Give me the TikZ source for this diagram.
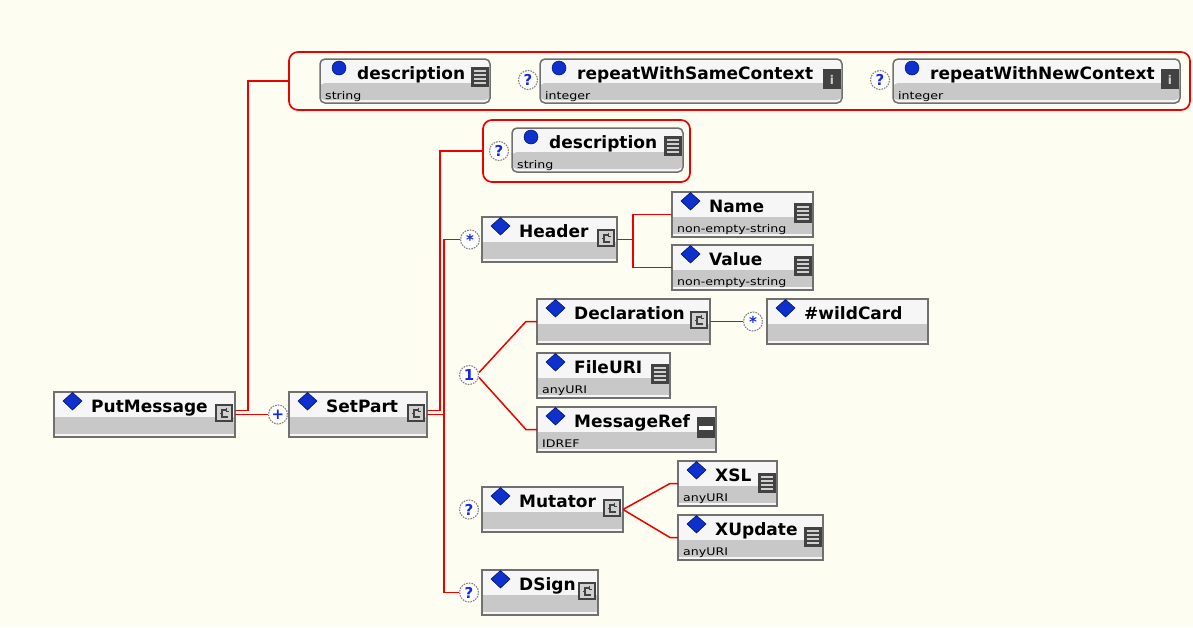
\documentclass[tikz,border=0pt]{standalone}
\usepackage{fontspec}
\setmainfont{DejaVu Sans}
\newfontfamily\subfont[FakeStretch=1.2]{DejaVu Sans}

\definecolor{bgcream}{RGB}{253,253,241}
\definecolor{conn}{RGB}{238,0,0}
\definecolor{frame}{RGB}{112,112,112}
\definecolor{topfill}{RGB}{246,246,246}
\definecolor{band}{RGB}{200,200,200}
\definecolor{mark}{RGB}{14,48,205}
\definecolor{markdark}{RGB}{0,22,110}
\definecolor{icondark}{RGB}{66,66,66}
\definecolor{iconlite}{RGB}{208,208,208}
\definecolor{occblue}{RGB}{20,40,230}

\tikzset{
  bandpic/.style={path picture={\fill[band]
      ([yshift=-#1]path picture bounding box.north west) rectangle
      ([yshift=3pt]path picture bounding box.south east);}},
  elbox/.style={rectangle, draw=frame, line width=1.5pt, fill=topfill,
    anchor=north west, inner sep=0pt, outer sep=0pt, minimum height=45pt,
    bandpic=25pt},
  atbox/.style={elbox, rounded corners=5pt, minimum height=44pt, bandpic=24pt},
  grp/.style={rectangle, draw=conn, line width=1.7pt, rounded corners=9pt,
    anchor=north west, inner sep=0pt, outer sep=0pt},
  conn/.style={draw=conn, line width=1.9pt},
  occ/.style={circle, draw=gray, dash pattern=on 1.6pt off 1.1pt,
    line width=1.1pt, fill=white, minimum size=19pt, inner sep=0pt,
    text=occblue, font=\bfseries\fontsize{15}{15}\selectfont},
  lbl/.style={anchor=base west, inner sep=0pt,
    font=\bfseries\fontsize{17}{19}\selectfont},
  sublbl/.style={anchor=base west, inner sep=0pt,
    font=\subfont\fontsize{10.5}{12}\selectfont},
}

% icons at the right end of a box: #1 = right edge, #2 = top
\newcommand{\icsimple}[2]{%
  \fill[icondark] (#1-19,#2) rectangle (#1-1,#2+20);
  \foreach \k in {4,8,12,16}
    \draw[iconlite, line width=1.3pt] (#1-16,#2+\k) -- (#1-4,#2+\k);}
\newcommand{\iccomplex}[2]{%
  \filldraw[fill=iconlite, draw=icondark, line width=1.2pt]
    (#1-19,#2) rectangle (#1-3,#2+16);
  \draw[icondark, line width=1.1pt]
    (#1-8,#2+5) -- (#1-13,#2+5) -- (#1-13,#2+12) -- (#1-7,#2+12)
    (#1-13,#2+8.5) -- (#1-15.5,#2+8.5)
    (#1-8.5,#2+2.5) -- (#1-8.5,#2+6.5) -- (#1-6.5,#2+6.5);}
\newcommand{\icref}[2]{%
  \fill[icondark] (#1-19,#2) rectangle (#1-1,#2+21);
  \fill[white] (#1-17,#2+9) rectangle (#1-3,#2+12.5);}
\newcommand{\icinfo}[3]{%
  \fill[icondark] (#1-19,#2) rectangle (#1-1,#2+20);
  \node[text=iconlite, inner sep=0pt, font=\bfseries\fontsize{12}{12}\selectfont]
    (#3-ico) at (#1-10,#2+10.5) {i};}

% element box: name, x, y, width, label, type, icon
\newcommand{\xelem}[7]{%
  \node[elbox, minimum width=#4pt] (#1) at (#2,#3) {};
  \begin{scope}[shift={(#1.north west)}]
    \filldraw[fill=mark, draw=markdark, line width=0.6pt]
      (18.5,0.5) -- (28,9) -- (18.5,18) -- (9,9) -- cycle;
    \node[lbl] (#1-lab) at (37,20) {#5};
    \node[sublbl] (#1-sub) at (5,40) {#6};
    #7
  \end{scope}}

% attribute box: name, x, y, width, label, type, icon
\newcommand{\xattr}[7]{%
  \node[atbox, minimum width=#4pt] (#1) at (#2,#3) {};
  \begin{scope}[shift={(#1.north west)}]
    \filldraw[fill=mark, draw=markdark, line width=0.5pt] (19,9) circle (7);
    \node[lbl] (#1-lab) at (37,20) {#5};
    \node[sublbl] (#1-sub) at (5,40) {#6};
    #7
  \end{scope}}

\begin{document}
\begin{tikzpicture}[x=1pt,y=-1pt]
\fill[bgcream] (0,0) rectangle (1193,627);
\useasboundingbox (0,0) rectangle (1193,627);

% attribute groups
\node[grp, minimum width=901pt, minimum height=58pt] (g1) at (289,52) {};
\node[grp, minimum width=207pt, minimum height=62pt] (g2) at (483,120) {};

% attributes of PutMessage
\xattr{adesc}{320}{59}{170}{description}{string}{\icsimple{170}{8}}
\node[occ] (qsame) at (528,80) {?};
\xattr{asame}{540}{59}{302}{repeatWithSameContext}{integer}{\icinfo{302}{10}{asame}}
\node[occ] (qnew) at (880,80) {?};
\xattr{anew}{893}{59}{287}{repeatWithNewContext}{integer}{\icinfo{287}{10}{anew}}

% attribute of SetPart
\node[occ] (qdesc) at (499,151) {?};
\xattr{sdesc}{512}{128}{171}{description}{string}{\icsimple{171}{8}}

% elements
\xelem{putmsg}{54}{392}{181}{PutMessage}{}{\iccomplex{181}{13}}
\node[occ] (plus) at (278,414.5) {+};
\xelem{setpart}{289}{392}{138}{SetPart}{}{\iccomplex{138}{13}}

\node[occ] (shdr) at (470,239.5) {*};
\xelem{header}{482}{217}{135}{Header}{}{\iccomplex{135}{13}}
\xelem{name}{672}{192}{141}{Name}{non-empty-string}{\icsimple{141}{11}}
\xelem{value}{672}{245}{141}{Value}{non-empty-string}{\icsimple{141}{11}}

\node[occ] (one) at (469,375) {1};
\xelem{decl}{537}{299}{173}{Declaration}{}{\iccomplex{173}{13}}
\node[occ] (swild) at (753,321.5) {*};
\xelem{wild}{767}{299}{161}{\#wildCard}{}{}
\xelem{fileuri}{537}{353}{133}{FileURI}{anyURI}{\icsimple{133}{11}}
\xelem{msgref}{537}{407}{179}{MessageRef}{IDREF}{\icref{179}{10}}

\node[occ] (qmut) at (469,509.5) {?};
\xelem{mutator}{482}{487}{141}{Mutator}{}{\iccomplex{141}{13}}
\xelem{xsl}{678}{461}{99}{XSL}{anyURI}{\icsimple{99}{12}}
\xelem{xupd}{678}{515}{145}{XUpdate}{anyURI}{\icsimple{145}{12}}

\node[occ] (qdsign) at (469,592.5) {?};
\xelem{dsign}{482}{570}{116}{DSign}{}{\iccomplex{116}{13}}

% connectors
\draw[conn] ([yshift=4pt]putmsg.east) -- ++(13,0) |- (g1.west);
\draw[conn] (putmsg.east) -- (plus.west);

\draw[conn] ([yshift=4pt]setpart.east) -- ++(13,0) |- (g2.west);
\draw[conn] (setpart.east) -- ++(17,0);
\draw[conn] (shdr.west) -- ++(-16,0) |- (qdsign.west);

\coordinate (hj) at (633,0);
\draw[conn] (header.east) -- (header.east -| hj);
\draw[conn] (name.west) -| (hj |- value.west) -- (value.west);

\draw[conn, line width=1.5pt] ([yshift=2.5pt]one.east) -- ([xshift=-11pt]decl.west) -- (decl.west);
\draw[conn, line width=1.5pt] ([yshift=-2.5pt]one.east) -- ([xshift=-11pt]msgref.west) -- (msgref.west);
\draw[conn] (decl.east) -- (swild.west);

\draw[conn, line width=1.5pt] (mutator.east) -- ([xshift=-8pt]xsl.west) -- (xsl.west);
\draw[conn, line width=1.5pt] (mutator.east) -- ([xshift=-8pt]xupd.west) -- (xupd.west);
\end{tikzpicture}
\end{document}
